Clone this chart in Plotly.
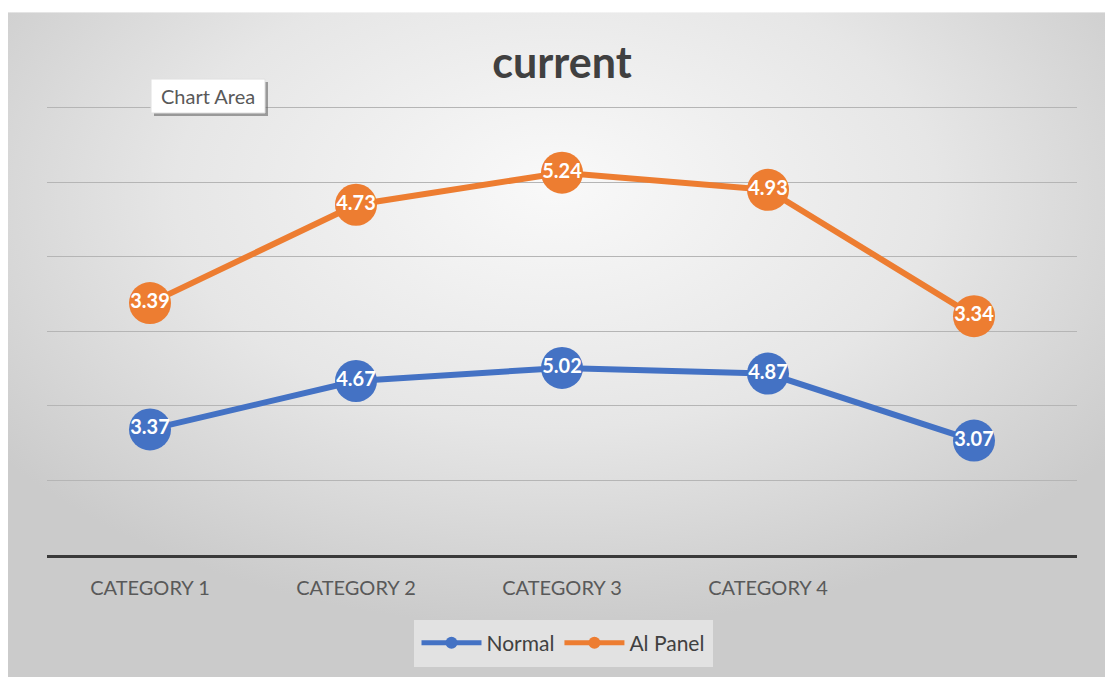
import base64
import plotly.graph_objects as go

# ---- data ----
categories = ["CATEGORY 1", "CATEGORY 2", "CATEGORY 3", "CATEGORY 4", ""]
normal = [3.37, 4.67, 5.02, 4.87, 3.07]
ai_panel = [3.39, 4.73, 5.24, 4.93, 3.34]
y_gridvals = [0, 2, 4, 6, 8, 10, 12]
series_names = ["Normal", "Al Panel"]

BLUE = "#4472C4"
ORANGE = "#ED7D31"
FONT = "Lato, 'Open Sans', sans-serif"

W, H = 1105, 677
ML, MR, MT, MB = 47, 28, 106, 121
PW, PH = W - ML - MR, H - MT - MB

def px_to_paper_x(px):
    return (px - ML) / PW

def py_to_paper_y(py):
    return (H - MB - py) / PH

# background panel (slightly oversized; clipped by the figure edge)
BG_X0, BG_Y0, BG_W, BG_H = 8, 12, W - 8 + 20, H - 12 + 20

svg = (
    f"<svg xmlns='http://www.w3.org/2000/svg' width='{BG_W}' height='{BG_H}' "
    "preserveAspectRatio='none' viewBox='0 0 100 100'>"
    "<defs><radialGradient id='g' cx='0.49' cy='0.28' r='0.62' fx='0.49' fy='0.25'>"
    "<stop offset='0' stop-color='#f9f9f9'/>"
    "<stop offset='0.55' stop-color='#e6e6e6'/>"
    "<stop offset='1' stop-color='#cbcbcb'/>"
    "</radialGradient></defs>"
    "<rect x='0' y='0' width='100' height='100' fill='url(#g)'/></svg>"
)
bg_src = "data:image/svg+xml;base64," + base64.b64encode(svg.encode()).decode()

x_idx = list(range(len(categories)))

fig = go.Figure()
for name, vals, col in [(series_names[0], normal, BLUE), (series_names[1], ai_panel, ORANGE)]:
    fig.add_trace(go.Scatter(
        x=x_idx, y=vals, name=name, stackgroup="s", fill="none",
        mode="lines+markers+text",
        line=dict(color=col, width=6),
        marker=dict(color=col, size=42, line=dict(width=0)),
        text=[f"{v:.2f}" for v in vals],
        textposition="middle center",
        textfont=dict(color="white", size=20, family=FONT, weight="bold"),
        hoverinfo="skip",
    ))

# Chart Area tooltip box with shadow
cx0, cx1, cy0, cy1 = 151, 265, 79, 113
fig.add_shape(type="rect", xref="paper", yref="paper",
              x0=px_to_paper_x(cx0 + 3), x1=px_to_paper_x(cx1 + 3),
              y0=py_to_paper_y(cy1 + 3), y1=py_to_paper_y(cy0 + 3),
              fillcolor="rgba(90,90,90,0.55)", line=dict(width=0), layer="above")
fig.add_shape(type="rect", xref="paper", yref="paper",
              x0=px_to_paper_x(cx0), x1=px_to_paper_x(cx1),
              y0=py_to_paper_y(cy1), y1=py_to_paper_y(cy0),
              fillcolor="white", line=dict(color="#e0e0e0", width=1), layer="above")
fig.add_annotation(xref="paper", yref="paper",
                   x=px_to_paper_x((cx0 + cx1) / 2), y=py_to_paper_y((cy0 + cy1) / 2),
                   text="Chart Area", showarrow=False,
                   font=dict(size=20, color="#595959", family=FONT),
                   xanchor="center", yanchor="middle")

fig.add_layout_image(dict(
    source=bg_src, xref="paper", yref="paper",
    x=px_to_paper_x(BG_X0), y=py_to_paper_y(BG_Y0),
    sizex=BG_W / PW, sizey=BG_H / PH,
    xanchor="left", yanchor="top", sizing="stretch", layer="below",
))

fig.update_layout(
    width=W, height=H,
    margin=dict(l=ML, r=MR, t=MT, b=MB),
    paper_bgcolor="white",
    plot_bgcolor="rgba(0,0,0,0)",
    font=dict(family=FONT, color="#595959"),
    title=dict(text="<b>current</b>", x=0.5, xref="paper", xanchor="center",
               y=1 - 63 / H, yref="container", yanchor="middle",
               font=dict(size=43, color="#404040", family=FONT)),
    showlegend=True,
    legend=dict(orientation="h", x=px_to_paper_x(563), xanchor="center",
                y=py_to_paper_y(643), yanchor="middle",
                bgcolor="#e2e2e2", font=dict(size=21, color="#404040", family=FONT),
                itemsizing="constant", traceorder="normal", itemwidth=60,
                borderwidth=3, bordercolor="#e2e2e2"),
    xaxis=dict(range=[-0.5, 4.5], tickvals=x_idx[:4], ticktext=categories[:4],
               showgrid=False, zeroline=False, showline=True,
               linecolor="#3a3a3a", linewidth=3,
               ticks="outside", ticklen=13, tickcolor="rgba(0,0,0,0)",
               tickfont=dict(size=20, color="#595959", family=FONT), fixedrange=True),
    yaxis=dict(range=[0, 12.05], tickvals=y_gridvals, showticklabels=False,
               showgrid=True, gridcolor="#b5b5b5", gridwidth=1,
               zeroline=False, showline=False, fixedrange=True),
)

fig.write_html(
    "out.html",
    config={"displayModeBar": False},
    post_script=(
        "document.body.style.margin='0';"
        "document.body.style.overflow='hidden';"
        "document.documentElement.style.overflow='hidden';"
        "document.body.style.background='#cdcdcd';"
    ),
)
